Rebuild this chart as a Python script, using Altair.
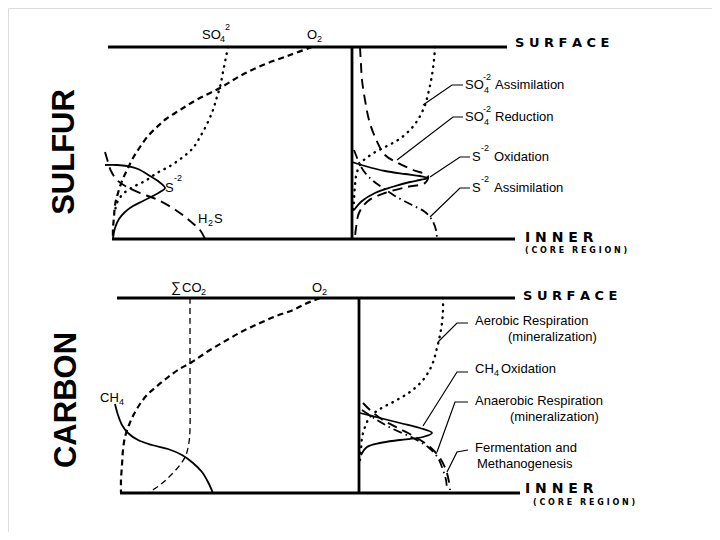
import altair as alt
import pandas as pd

# ---------------- curve data (x, y) ----------------
# frame lines
surf_s_x = [108, 507]; surf_s_y = [47, 47]
inner_s_x = [112, 515]; inner_s_y = [239, 239]
div_s_x = [352, 352]; div_s_y = [47, 239]
surf_c_x = [117, 515]; surf_c_y = [298, 298]
inner_c_x = [120, 520]; inner_c_y = [493, 493]
div_c_x = [359, 359]; div_c_y = [298, 493]

# SULFUR: concentration profiles
o2_s_x = [312, 290, 263, 240, 220, 198, 180, 166, 157, 148, 140, 133, 127, 122, 118, 115, 114, 113, 113]
o2_s_y = [47, 55, 65, 76, 88, 99, 110, 119, 127, 136, 147, 158, 170, 181, 193, 205, 217, 228, 238]
so4_s_x = [228, 226, 223, 220, 216, 213, 207, 200, 193, 183, 170, 157, 145, 133, 124, 119, 116, 115]
so4_s_y = [47, 57, 72, 87, 100, 110, 124, 137, 148, 157, 166, 173, 181, 187, 193, 199, 206, 213]
s2_s_x = [105, 117, 127, 138, 150, 158, 165, 160, 153, 143, 133, 125, 119, 115, 113]
s2_s_y = [165, 165, 166, 169, 176, 181, 188, 192, 196, 201, 206, 212, 219, 228, 238]
h2s_s_x = [105, 108, 111, 117, 127, 140, 158, 177, 190, 200, 205]
h2s_s_y = [152, 162, 171, 180, 187, 193, 200, 211, 221, 230, 239]

# SULFUR: process rates
red_s_x = [360, 361, 362, 365, 369, 375, 385, 398, 413, 428, 425, 407, 385, 368, 359, 356, 355]
red_s_y = [47, 65, 80, 100, 120, 137, 155, 163, 170, 176, 183, 187, 193, 201, 213, 228, 237]
asm_s_x = [435, 434, 432, 429, 425, 419, 410, 398, 385, 372, 362, 357, 355, 354, 353]
asm_s_y = [47, 60, 75, 90, 105, 118, 130, 140, 147, 154, 162, 172, 185, 200, 215]
oxi_s_x = [352, 365, 385, 405, 420, 428, 420, 410, 392, 375, 362, 354]
oxi_s_y = [162, 166, 171, 174, 176, 178, 180, 182, 187, 193, 201, 210]
sas_s_x = [354, 358, 363, 372, 383, 395, 412, 425, 432, 436, 437]
sas_s_y = [150, 160, 170, 180, 188, 196, 205, 212, 220, 230, 238]

# CARBON: concentration profiles
co2_c_x = [190, 190, 190, 190, 190, 189, 186, 180, 170, 160, 148]
co2_c_y = [298, 320, 360, 400, 430, 442, 455, 465, 476, 485, 493]
o2_c_x = [320, 305, 293, 276, 260, 243, 227, 210, 192, 178, 167, 156, 147, 140, 134, 129, 125, 123, 122, 121, 121]
o2_c_y = [298, 304, 310, 316, 323, 331, 340, 350, 362, 370, 378, 387, 395, 404, 414, 425, 437, 450, 465, 480, 493]
ch4_c_x = [115, 118, 122, 128, 138, 152, 168, 182, 193, 202, 208, 213]
ch4_c_y = [404, 415, 425, 433, 440, 445, 449, 455, 463, 472, 482, 493]

# CARBON: process rates
aer_c_x = [443, 443, 442, 440, 437, 432, 423, 410, 395, 380, 370, 365, 362, 361, 360]
aer_c_y = [298, 310, 323, 335, 348, 365, 380, 392, 401, 409, 417, 427, 438, 450, 460]
ch4ox_c_x = [360, 380, 400, 420, 432, 423, 400, 380, 367, 361]
ch4ox_c_y = [413, 418, 423, 428, 433, 437, 440, 443, 447, 455]
anaer_c_x = [363, 370, 383, 400, 417, 430, 440, 446, 449, 450]
anaer_c_y = [403, 410, 420, 429, 438, 447, 458, 470, 482, 490]
ferm_c_x = [362, 377, 393, 413, 428, 438, 443, 446, 447]
ferm_c_y = [410, 420, 429, 438, 447, 458, 470, 480, 490]

# leader lines
lead1_x = [423, 452, 463]; lead1_y = [105, 85, 85]
lead2_x = [397, 453, 463]; lead2_y = [160, 117, 117]
lead3_x = [430, 460, 470]; lead3_y = [177, 157, 157]
lead4_x = [430, 460, 470]; lead4_y = [217, 188, 188]
lead5_x = [438, 457, 468]; lead5_y = [342, 323, 323]
lead6_x = [423, 457, 468]; lead6_y = [426, 372, 372]
lead7_x = [437, 455, 468]; lead7_y = [452, 402, 402]
lead8_x = [447, 457, 468]; lead8_y = [472, 452, 450]

curves = [
    ("surf_s", "frame", surf_s_x, surf_s_y), ("inner_s", "frame", inner_s_x, inner_s_y),
    ("div_s", "frame", div_s_x, div_s_y), ("surf_c", "frame", surf_c_x, surf_c_y),
    ("inner_c", "frame", inner_c_x, inner_c_y), ("div_c", "frame", div_c_x, div_c_y),
    ("o2_s", "dash", o2_s_x, o2_s_y), ("so4_s", "dot", so4_s_x, so4_s_y),
    ("s2_s", "solid", s2_s_x, s2_s_y), ("h2s_s", "longdash", h2s_s_x, h2s_s_y),
    ("red_s", "longdash", red_s_x, red_s_y), ("asm_s", "dot", asm_s_x, asm_s_y),
    ("oxi_s", "solid", oxi_s_x, oxi_s_y), ("sas_s", "dashdot", sas_s_x, sas_s_y),
    ("co2_c", "thindash", co2_c_x, co2_c_y), ("o2_c", "dash", o2_c_x, o2_c_y),
    ("ch4_c", "solid", ch4_c_x, ch4_c_y),
    ("aer_c", "dot", aer_c_x, aer_c_y), ("ch4ox_c", "solid", ch4ox_c_x, ch4ox_c_y),
    ("anaer_c", "longdash", anaer_c_x, anaer_c_y), ("ferm_c", "dashdot", ferm_c_x, ferm_c_y),
    ("lead1", "leader", lead1_x, lead1_y), ("lead2", "leader", lead2_x, lead2_y),
    ("lead3", "leader", lead3_x, lead3_y), ("lead4", "leader", lead4_x, lead4_y),
    ("lead5", "leader", lead5_x, lead5_y), ("lead6", "leader", lead6_x, lead6_y),
    ("lead7", "leader", lead7_x, lead7_y), ("lead8", "leader", lead8_x, lead8_y),
]

rows = []
for name, style, xs, ys in curves:
    for i, (x, y) in enumerate(zip(xs, ys)):
        rows.append({"curve": name, "style": style, "i": i, "x": x, "y": y})
lines_df = pd.DataFrame(rows)

# ---------------- text labels ----------------
label_text = ["SO", "4", "2", "O", "2", "S", "-2", "H", "2", "S",
              "SO", "4", "-2", "Assimilation",
              "SO", "4", "-2", "Reduction",
              "S", "-2", "Oxidation",
              "S", "-2", "Assimilation",
              "\u2211", "CO", "2", "O", "2", "CH", "4",
              "Aerobic Respiration", "(mineralization)",
              "CH", "4", "Oxidation",
              "Anaerobic Respiration", "(mineralization)",
              "Fermentation and", "Methanogenesis"]
label_x = [202, 220, 225, 307, 317, 165, 174, 198, 208, 214,
           465, 484, 483, 495,
           465, 484, 483, 495,
           472, 481, 494,
           472, 481, 494,
           171, 182, 201, 312, 322, 100, 119,
           475, 508,
           475, 494, 501,
           475, 510,
           475, 477]
label_y = [35, 39, 27, 35, 39, 188, 178, 219, 223, 219,
           85, 90, 77, 85,
           117, 122, 109, 117,
           157, 148, 157,
           188, 179, 188,
           288, 288, 292, 288, 292, 398, 402,
           321, 337,
           369, 373, 369,
           401, 417,
           448, 464]
label_size = [13, 9, 9, 13, 9, 13, 9, 13, 9, 13,
              13, 9, 9, 13,
              13, 9, 9, 13,
              13, 9, 13,
              13, 9, 13,
              14, 13, 9, 13, 9, 13, 9,
              13, 13,
              13, 9, 13,
              13, 13,
              13, 13]
labels_df = pd.DataFrame({"text": label_text, "x": label_x, "y": label_y, "size": label_size})

core = "( " + " ".join("CORE") + "\u2003" + " ".join("REGION") + " )"
bound_text = [" ".join("SURFACE"), " ".join("INNER"), core,
              " ".join("SURFACE"), " ".join("INNER"), core]
bound_x = [515, 525, 525, 523, 525, 533]
bound_y = [43, 238, 251, 296, 489, 503]
bound_size = [13, 14, 8, 13, 14, 8]
bound_df = pd.DataFrame({"text": bound_text, "x": bound_x, "y": bound_y, "size": bound_size})

title_text = ["SULFUR", "CARBON"]
title_x = [65, 67]
title_y = [152, 400]
title_df = pd.DataFrame({"text": title_text, "x": title_x, "y": title_y})

# ---------------- chart ----------------
X = alt.X("x:Q", scale=alt.Scale(domain=[8, 712]), axis=None)
Y = alt.Y("y:Q", scale=alt.Scale(domain=[8, 532], reverse=True), axis=None)

styles = {
    "frame": dict(strokeWidth=2.8),
    "solid": dict(strokeWidth=1.8),
    "dash": dict(strokeWidth=2.2, strokeDash=[6, 4]),
    "thindash": dict(strokeWidth=1.3, strokeDash=[6, 4]),
    "dot": dict(strokeWidth=2.4, strokeDash=[0.5, 6], strokeCap="round"),
    "longdash": dict(strokeWidth=1.9, strokeDash=[10, 6]),
    "dashdot": dict(strokeWidth=1.8, strokeDash=[9, 4, 1.5, 4]),
    "leader": dict(strokeWidth=1.2),
}

layers = []
for st, kw in styles.items():
    layers.append(
        alt.Chart(lines_df)
        .transform_filter(alt.datum.style == st)
        .mark_line(color="black",
                   interpolate="catmull-rom" if st not in ("frame", "leader") else "linear", **kw)
        .encode(x=X, y=Y, detail="curve:N", order="i:Q")
    )

layers.append(
    alt.Chart(labels_df).mark_text(align="left", baseline="middle", font="Liberation Sans", color="black")
    .encode(x=X, y=Y, text="text:N", size=alt.Size("size:Q", scale=None))
)
layers.append(
    alt.Chart(bound_df).mark_text(align="left", baseline="middle", font="DejaVu Sans", fontWeight="bold", color="black")
    .encode(x=X, y=Y, text="text:N", size=alt.Size("size:Q", scale=None))
)
layers.append(
    alt.Chart(title_df).mark_text(align="center", baseline="middle", font="Liberation Sans", fontSize=31,
                                  fontWeight="bold", angle=270, color="black")
    .encode(x=X, y=Y, text="text:N")
)

chart = alt.layer(*layers).properties(
    width=704, height=524, padding=0, autosize=alt.AutoSizeParams(type="none")
).configure_view(stroke=None).configure(background="white")

chart.save("out.html", embed_options={"renderer": "svg", "actions": False})
